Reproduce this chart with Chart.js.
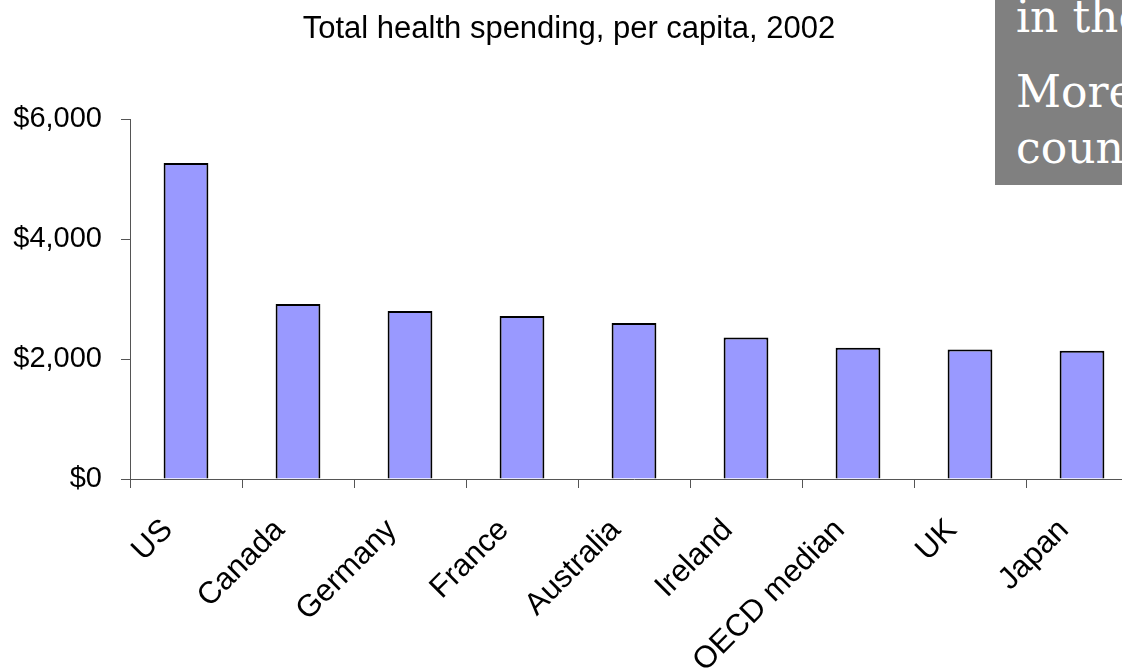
<!DOCTYPE html>
<html>
<head>
<meta charset="utf-8">
<title>Total health spending, per capita, 2002</title>
<script src="https://cdn.jsdelivr.net/npm/chart.js@4/dist/chart.umd.min.js"></script>
<style>
  html, body { margin: 0; padding: 0; background: #fff; overflow: hidden; }
  #wrap { position: absolute; left: 0; top: 0; width: 1140px; height: 669px; }
  #note {
    position: absolute; left: 995px; top: 0; width: 260px; height: 185px;
    background: #808080; color: #fff; overflow: hidden; white-space: nowrap;
    font-family: "DejaVu Serif", serif; font-size: 44px; line-height: 44px;
  }
  #note span { position: absolute; left: 21px; }
</style>
</head>
<body>
<div id="wrap"><canvas id="spendChart" width="1140" height="669"></canvas></div>
<div id="note">
  <span style="top:-5px">in the</span>
  <span style="top:70px">More</span>
  <span style="top:126px">countries</span>
</div>
<script>
const countries = ['US', 'Canada', 'Germany', 'France', 'Australia', 'Ireland', 'OECD median', 'UK', 'Japan'];
const spending = [5270, 2920, 2800, 2720, 2600, 2360, 2190, 2160, 2140];
const yTicks = [0, 2000, 4000, 6000];

const axisColor = '#555';
const fontFamily = 'Arial, "Liberation Sans", sans-serif';

(function () {
    const ctx = document.getElementById('spendChart').getContext('2d');

    new Chart(ctx, {
        type: 'bar',
        data: {
            labels: countries,
            datasets: [{
                data: spending,
                backgroundColor: '#9999FF',
                borderColor: '#000',
                borderWidth: 2,
                borderSkipped: 'bottom',
                categoryPercentage: 1,
                barPercentage: 0.4
            }]
        },
        options: {
            responsive: false,
            animation: false,
            layout: { padding: { left: 0, right: 2, top: 0, bottom: 0 } },
            plugins: {
                legend: { display: false },
                tooltip: { enabled: false },
                title: {
                    display: true,
                    text: 'Total health spending, per capita, 2002',
                    color: '#000',
                    font: { family: fontFamily, size: 31, weight: 'normal' },
                    padding: { top: 11, bottom: 71 }
                }
            },
            scales: {
                x: {
                    offset: true,
                    border: { display: true, color: axisColor, width: 1 },
                    grid: { display: true, offset: true, drawOnChartArea: false, drawTicks: true, tickLength: 9, color: axisColor },
                    ticks: {
                        color: '#000',
                        font: { family: fontFamily, size: 31 },
                        autoSkip: false,
                        minRotation: 45,
                        maxRotation: 45,
                        padding: 24,
                        labelOffset: -18
                    },
                    afterFit: scale => { scale.height = 190; }
                },
                y: {
                    min: 0,
                    max: 6000,
                    border: { display: true, color: axisColor, width: 1 },
                    grid: { display: true, drawOnChartArea: false, drawTicks: true, tickLength: 9, color: axisColor },
                    afterBuildTicks: scale => { scale.ticks = yTicks.map(v => ({ value: v })); },
                    ticks: {
                        color: '#000',
                        font: { family: fontFamily, size: 29 },
                        padding: 19,
                        callback: v => '$' + Number(v).toLocaleString('en-US')
                    },
                    afterFit: scale => { scale.width = 130; }
                }
            }
        }
    });
})();
</script>
</body>
</html>
